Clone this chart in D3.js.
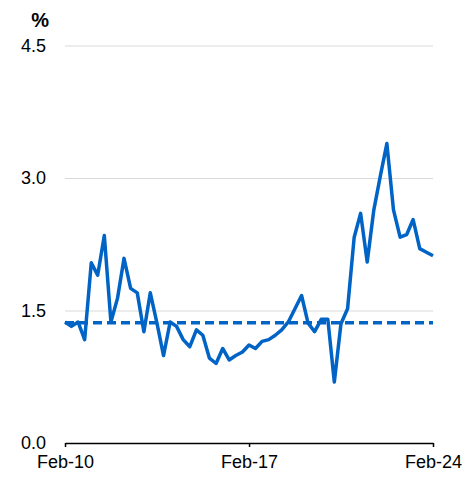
<html><head>
  <script src="https://d3js.org/d3.v7.min.js"></script>
  <style>
    body { margin: 0; background: #fff; }
    text { font-family: 'Liberation Sans', Arial, sans-serif; }
    .gridlines line { stroke: #d9d9d9; stroke-width: 1; }
  </style>
</head>
<body>
  <script>
    // quarterly values, Feb-10 .. Feb-24
    const startDate = new Date(2010, 1, 1)
    const values = [1.37, 1.32, 1.37, 1.17, 2.04, 1.90, 2.35, 1.37, 1.64, 2.09,
                    1.75, 1.70, 1.26, 1.70, 1.36, 0.99, 1.37, 1.32, 1.17, 1.09,
                    1.28, 1.22, 0.96, 0.90, 1.07, 0.94, 0.99, 1.03, 1.11, 1.07,
                    1.15, 1.17, 1.22, 1.28, 1.37, 1.52, 1.67, 1.36, 1.26, 1.40,
                    1.40, 0.69, 1.35, 1.52, 2.33, 2.60, 2.05, 2.64, 3.03, 3.39,
                    2.64, 2.33, 2.36, 2.53, 2.20, 2.16, 2.12]
    const average = 1.36
    const yTicks = [0, 1.5, 3.0, 4.5]
    const xTicks = [new Date(2010, 1, 1), new Date(2017, 1, 1), new Date(2024, 1, 1)]
    const xTickLabels = ["Feb-10", "Feb-17", "Feb-24"]

    const data = values.map((v, i) => ({date: d3.timeMonth.offset(startDate, 3 * i), value: v}))

    const width = 470, height = 481
    const margin = {top: 45.5, bottom: 38, left: 65, right: 37}
    const blue = "#0063c6"

    const svg = d3.select("body").append("svg")
                  .attr("width", width)
                  .attr("height", height)

    const x = d3.scaleTime()
                .domain([startDate, d3.timeMonth.offset(startDate, 3 * (values.length - 1))])
                .range([margin.left, width - margin.right])
    const y = d3.scaleLinear().domain([0, 4.5]).range([height - margin.bottom, margin.top])

    // gridlines
    svg.append("g").attr("class", "gridlines")
       .attr("transform", `translate(${margin.left},0)`)
       .call(d3.axisLeft(y).tickValues(yTicks.slice(1)).tickSize(-(width - margin.left - margin.right)).tickFormat(""))
       .call(g => g.select(".domain").remove())

    // y labels
    svg.append("g")
       .selectAll("text").data(yTicks).join("text")
       .attr("x", 46)
       .attr("y", d => y(d) + 6)
       .attr("text-anchor", "end")
       .style("font-size", "18px")
       .style("fill", "#000")
       .text(d => d3.format(".1f")(d))

    svg.append("text")
       .attr("x", 49).attr("y", 27)
       .attr("text-anchor", "end")
       .style("font-size", "20px")
       .style("font-weight", "bold")
       .text("%")

    // x axis
    const xAxis = svg.append("g")
       .attr("transform", `translate(0,${y(0)})`)
       .call(d3.axisBottom(x).tickValues(xTicks).tickSizeInner(4).tickSizeOuter(0).tickFormat((d, i) => xTickLabels[i]))
    xAxis.select(".domain").attr("stroke", "#000").attr("stroke-width", 1.5)
    xAxis.selectAll(".tick line").attr("stroke", "#000").attr("stroke-width", 1.5)
    xAxis.selectAll(".tick text")
         .attr("y", 12)
         .style("font-size", "18px")
         .style("font-family", "'Liberation Sans', Arial, sans-serif")
         .style("fill", "#000")

    // average dashed line
    svg.append("line")
       .attr("x1", x.range()[0]).attr("x2", x.range()[1])
       .attr("y1", y(average)).attr("y2", y(average))
       .attr("stroke", blue)
       .attr("stroke-width", 3.5)
       .attr("stroke-dasharray", "9,5")

    // series line
    const line = d3.line().x(d => x(d.date)).y(d => y(d.value))
    svg.append("path")
       .datum(data)
       .attr("d", line)
       .attr("fill", "none")
       .attr("stroke", blue)
       .attr("stroke-width", 3.5)
       .attr("stroke-linejoin", "round")
  </script>
</body></html>
